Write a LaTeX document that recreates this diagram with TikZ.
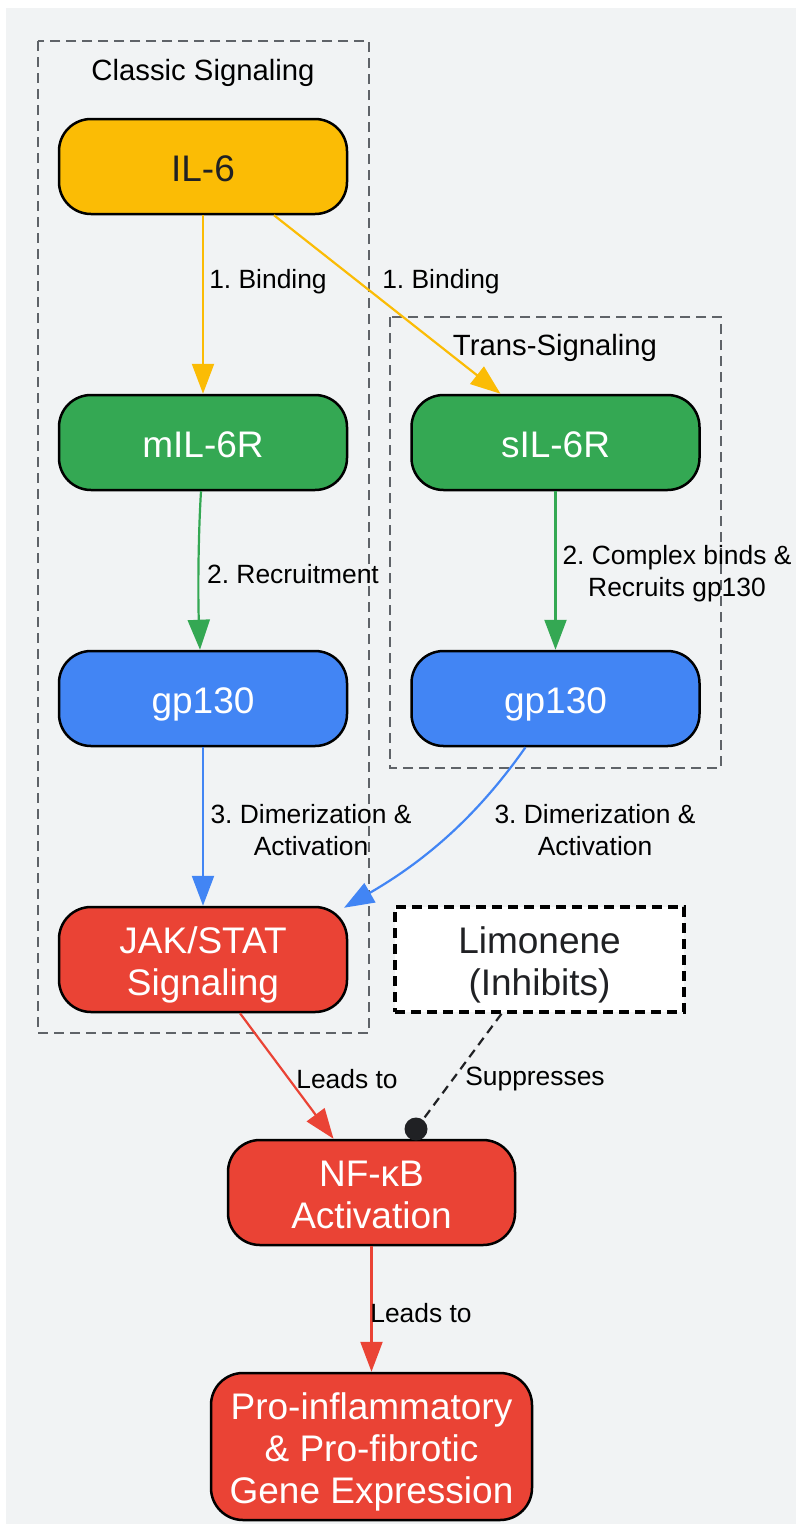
\documentclass[tikz,border=0pt]{standalone}
\usepackage{fontspec}
\setmainfont{Liberation Sans}
\frenchspacing
\usetikzlibrary{arrows.meta}
\definecolor{bg}{HTML}{F1F3F4}
\definecolor{cy}{HTML}{FBBC05}
\definecolor{cg}{HTML}{34A853}
\definecolor{cb}{HTML}{4285F4}
\definecolor{cr}{HTML}{EA4335}
\definecolor{dk}{HTML}{202124}
\definecolor{cl}{HTML}{5F6368}
\newcommand{\mlines}[1]{\begin{tabular}[t]{@{}c@{}}#1\end{tabular}}
\tikzset{
  nodefont/.style={font=\fontsize{37}{42}\selectfont},
  lone/.style={text height=30.4pt, text depth=0pt},
  ltwo/.style={text height=0pt, text depth=11.6pt},
  lthree/.style={text height=0pt, text depth=53.6pt},
  box/.style={draw=black, line width=2.5pt, rounded corners=32pt, minimum width=288pt, minimum height=95pt, inner sep=0pt, nodefont},
  clusterbox/.style={draw=cl, line width=2.5pt, dash pattern=on 10pt off 6pt},
  clusterlabel/.style={font=\fontsize{29.3}{32}\selectfont, text=black},
  elabel/.style={font=\fontsize{26.4}{32}\selectfont, text=black, align=center, inner sep=0pt},
  conn/.style={line width=2.2pt, -{Triangle[length=30pt,width=22pt]}},
}
\begin{document}
\begin{tikzpicture}[x=1pt,y=-1pt]
\useasboundingbox (0,0) rectangle (796,1524);
\fill[white] (0,0) rectangle (796,1524);
\fill[bg] (6,8) rectangle (796,1524);
% clusters
\draw[clusterbox] (38,41) rectangle (369,1033);
\node[clusterlabel] (cltitle) at (203,73) {Classic Signaling};
\draw[clusterbox] (390,317) rectangle (721,768);
\node[clusterlabel] (trtitle) at (555,348) {Trans-Signaling};
% nodes
\node[box, lone, fill=cy, text=dk] (il6) at (203,166.5) {\mlines{IL-6}};
\node[box, lone, fill=cg, text=white] (mil) at (203,442.5) {\mlines{mIL-6R}};
\node[box, lone, fill=cg, text=white] (sil) at (555.5,442.5) {\mlines{sIL-6R}};
\node[box, lone, fill=cb, text=white] (gpl) at (203,698.5) {\mlines{gp130}};
\node[box, lone, fill=cb, text=white] (gpr) at (555.5,698.5) {\mlines{gp130}};
\node[box, ltwo, fill=cr, text=white, minimum height=105pt] (jak) at (203,959.5) {\mlines{JAK/STAT\\Signaling}};
\node[draw=black, line width=3.5pt, dash pattern=on 10pt off 6pt, fill=white, text=dk, minimum width=289pt, minimum height=105pt, inner sep=0pt, nodefont, ltwo] (lim) at (539.5,959.5) {\mlines{Limonene\\(Inhibits)}};
\node[box, ltwo, fill=cr, text=white, minimum height=105pt, minimum width=287pt] (nf) at (371.5,1192.5) {\mlines{NF-κB\\Activation}};
\node[box, lthree, fill=cr, text=white, minimum height=147pt, minimum width=321pt] (pro) at (371.5,1446.5) {\mlines{Pro-inflammatory\\\& Pro-fibrotic\\Gene Expression}};
% edges
\draw[conn, draw=cy] (il6.south) -- (mil.north);
\node[elabel] (lb1) at (268,282) {1. Binding};
\draw[conn, draw=cy] ([xshift=71pt]il6.south) -- ([xshift=-55pt]sil.north);
\node[elabel] (lb2) at (441,282) {1. Binding};
\draw[conn, draw=cg] ([xshift=-2pt]mil.south) .. controls (198,540) and (198,600) .. ([xshift=-3pt]gpl.north);
\node[elabel] (lb3) at (293,574) {2. Recruitment};
\draw[conn, draw=cg] (sil.south) -- (gpr.north);
\node[elabel] (lb4) at (677,574) {2. Complex binds \&\\Recruits gp130};
\draw[conn, draw=cb] (gpl.south) -- (jak.north);
\node[elabel] (lb5) at (311,830) {3. Dimerization \&\\Activation};
\draw[conn, draw=cb] ([xshift=-30pt]gpr.south) .. controls (480,812) and (430,858) .. ([xshift=141pt,yshift=-2pt]jak.north);
\node[elabel] (lb6) at (595,830) {3. Dimerization \&\\Activation};
\draw[conn, draw=cr] ([xshift=37pt]jak.south) -- ([xshift=-38pt]nf.north);
\node[elabel] (lb7) at (347,1079) {Leads to};
\coordinate (dot) at (416,1129);
\draw[line width=2.2pt, draw=dk, dash pattern=on 9pt off 6pt] ([xshift=-38pt]lim.south) -- (dot);
\fill[dk] (dot) circle (11.5pt);
\node[elabel] (lb8) at (535,1079) {Suppresses};
\draw[conn, draw=cr] (nf.south) -- (pro.north);
\node[elabel] (lb9) at (421,1313) {Leads to};
\end{tikzpicture}
\end{document}
